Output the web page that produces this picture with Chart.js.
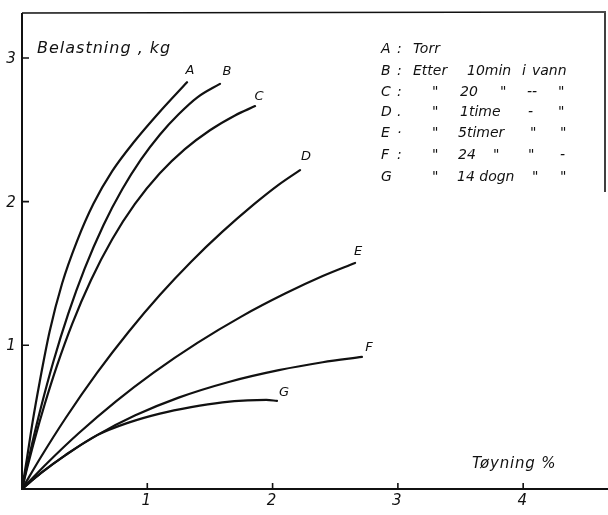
<!DOCTYPE html>
<html>
<head>
<meta charset="utf-8">
<script src="https://cdn.jsdelivr.net/npm/chart.js@4/dist/chart.umd.min.js"></script>
<style>
  html, body { margin: 0; padding: 0; background: #fff; }
  #wrap { width: 608px; height: 515px; }
</style>
</head>
<body>
<div id="wrap"><canvas id="c" width="608" height="515"></canvas></div>
<script>
// Load–elongation curves (Belastning kg vs Tøyning %)
const curveNames = ['A', 'B', 'C', 'D', 'E', 'F', 'G'];

const strainA = [0, 0.04, 0.085, 0.14, 0.22, 0.32, 0.44, 0.57, 0.72, 0.9, 1.1, 1.317];
const loadA   = [0, 0.215, 0.469, 0.740, 1.094, 1.430, 1.727, 1.985, 2.212, 2.422, 2.626, 2.831];

const strainB = [0, 0.03, 0.08, 0.15, 0.25, 0.37, 0.5, 0.65, 0.8, 0.95, 1.1, 1.25, 1.4, 1.58];
const loadB   = [0, 0.121, 0.314, 0.564, 0.886, 1.222, 1.534, 1.836, 2.086, 2.294, 2.466, 2.608, 2.726, 2.82];

const strainC = [0, 0.04, 0.1, 0.18, 0.28, 0.4, 0.55, 0.72, 0.9, 1.1, 1.3, 1.5, 1.7, 1.86];
const loadC   = [0, 0.142, 0.342, 0.586, 0.860, 1.148, 1.453, 1.738, 1.982, 2.197, 2.365, 2.497, 2.600, 2.665];

const strainD = [0, 0.15, 0.35, 0.6, 0.85, 1.1, 1.35, 1.6, 1.85, 2.05, 2.219];
const loadD   = [0, 0.221, 0.496, 0.810, 1.093, 1.350, 1.582, 1.791, 1.981, 2.119, 2.220];

const strainE = [0, 0.2, 0.45, 0.75, 1.05, 1.4, 1.75, 2.1, 2.4, 2.658];
const loadE   = [0, 0.179, 0.386, 0.610, 0.810, 1.017, 1.200, 1.360, 1.482, 1.573];

const strainF = [0, 0.15, 0.35, 0.6, 0.9, 1.25, 1.65, 2.05, 2.4, 2.713];
const loadF   = [0, 0.110, 0.238, 0.375, 0.511, 0.636, 0.745, 0.827, 0.882, 0.919];

const strainG = [0, 0.15, 0.35, 0.6, 0.85, 1.1, 1.35, 1.6, 1.8, 1.95, 2.035];
const loadG   = [0, 0.110, 0.238, 0.375, 0.462, 0.525, 0.570, 0.603, 0.617, 0.620, 0.613];

const xTicks = [1, 2, 3, 4];
const yTicks = [1, 2, 3];
const xTickLabels = ['1', '2', '3', '4'];
const yTickLabels = ['1', '2', '3'];

const yTitle = 'Belastning , kg';
const xTitle = 'Tøyning %';

// legend rows: the words of each line (ditto marks included)
const legendRows = [
  ['A', ':', 'Torr'],
  ['B', ':', 'Etter', '10min', 'i', 'vann'],
  ['C', ':', '"', '20', '"', '--', '"'],
  ['D', '.', '"', '1time', '-', '"'],
  ['E', '·', '"', '5timer', '"', '"'],
  ['F', ':', '"', '24', '"', '"', '-'],
  ['G', '"', '14 dogn', '"', '"']
];

const strains = [strainA, strainB, strainC, strainD, strainE, strainF, strainG];
const loads = [loadA, loadB, loadC, loadD, loadE, loadF, loadG];

const datasets = curveNames.map((name, i) => ({
  label: name,
  data: strains[i].map((x, k) => ({ x: x, y: loads[i][k] })),
  borderColor: '#111',
  borderWidth: 2.2,
  pointRadius: 0,
  fill: false,
  cubicInterpolationMode: 'monotone',
  borderCapStyle: 'round'
}));

const ink = '#111';
const hand = '"DejaVu Sans", sans-serif';

// label offsets (px) next to each curve's last point
const labelOffsets = [[3, -12], [7, -12], [4, -9], [6, -13], [3, -11], [7, -9], [7, -8]];

// horizontal placement of the words in each legend line
const legendLayout = [
  [381, 397, 413],
  [381, 397, 413, 467, 522, 532],
  [381, 397, 432, 460, 500, 527, 558],
  [381, 397, 432, 460, 528, 558],
  [381, 397, 432, 458, 530, 560],
  [381, 397, 432, 458, 493, 528, 560],
  [381, 432, 457, 532, 560]
];
const legendLineY = [49, 71, 92, 112, 133, 155, 177];

const drawingPlugin = {
  id: 'drawing',
  afterDatasetsDraw(chart) {
    const ctx = chart.ctx;
    const xs = chart.scales.x, ys = chart.scales.y;
    const area = chart.chartArea;
    const x0 = xs.getPixelForValue(0), y0 = ys.getPixelForValue(0);
    ctx.save();
    ctx.strokeStyle = ink;
    ctx.fillStyle = ink;
    ctx.lineCap = 'butt';

    // frame: top edge and upper part of the right edge
    ctx.lineWidth = 1.6;
    ctx.beginPath();
    ctx.moveTo(x0, area.top);
    ctx.lineTo(area.right, area.top - 1);
    ctx.moveTo(area.right - 1, area.top - 1);
    ctx.lineTo(area.right - 1, 192);
    ctx.stroke();

    // axes
    ctx.lineWidth = 2;
    ctx.beginPath();
    ctx.moveTo(x0, area.top);
    ctx.lineTo(x0, y0);
    ctx.lineTo(chart.width, y0);
    ctx.stroke();

    // tick marks (inside)
    ctx.lineWidth = 1.6;
    ctx.beginPath();
    xTicks.forEach(v => {
      const px = xs.getPixelForValue(v);
      ctx.moveTo(px, y0);
      ctx.lineTo(px, y0 - 6);
    });
    yTicks.forEach(v => {
      const py = ys.getPixelForValue(v);
      ctx.moveTo(x0, py);
      ctx.lineTo(x0 + 7, py);
    });
    ctx.stroke();

    // tick labels
    ctx.font = 'italic 15px ' + hand;
    ctx.textAlign = 'center';
    ctx.textBaseline = 'middle';
    xTicks.forEach((v, i) => {
      ctx.fillText(xTickLabels[i], xs.getPixelForValue(v) - 1, y0 + 12);
    });
    yTicks.forEach((v, i) => {
      ctx.fillText(yTickLabels[i], x0 - 11, ys.getPixelForValue(v) + 1);
    });

    // axis titles
    ctx.textAlign = 'left';
    ctx.font = 'italic 16px ' + hand;
    ctx.letterSpacing = '1px';
    ctx.fillText(yTitle, x0 + 15, 49);
    ctx.font = 'italic 15px ' + hand;
    ctx.letterSpacing = '0.8px';
    ctx.fillText(xTitle, 472, 464);
    ctx.letterSpacing = '0px';

    // curve labels
    ctx.font = 'italic 13px ' + hand;
    ctx.textAlign = 'center';
    chart.data.datasets.forEach((ds, i) => {
      const last = ds.data[ds.data.length - 1];
      const px = xs.getPixelForValue(last.x) + labelOffsets[i][0];
      const py = ys.getPixelForValue(last.y) + labelOffsets[i][1];
      ctx.fillText(ds.label, px, py);
    });

    // legend block
    ctx.font = 'italic 14px ' + hand;
    ctx.textAlign = 'left';
    legendRows.forEach((row, r) => {
      row.forEach((txt, c) => {
        ctx.fillText(txt, legendLayout[r][c], legendLineY[r]);
      });
    });
    ctx.restore();
  }
};

new Chart(document.getElementById('c'), {
  type: 'line',
  data: { datasets: datasets },
  options: {
    responsive: false,
    animation: false,
    layout: { padding: { left: 22, right: 2, top: 13, bottom: 26 } },
    plugins: { legend: { display: false }, tooltip: { enabled: false } },
    scales: {
      x: { type: 'linear', min: 0, max: 4.661, display: false },
      y: { type: 'linear', min: 0, max: 3.313, display: false }
    }
  },
  plugins: [drawingPlugin]
});
</script>
</body>
</html>
